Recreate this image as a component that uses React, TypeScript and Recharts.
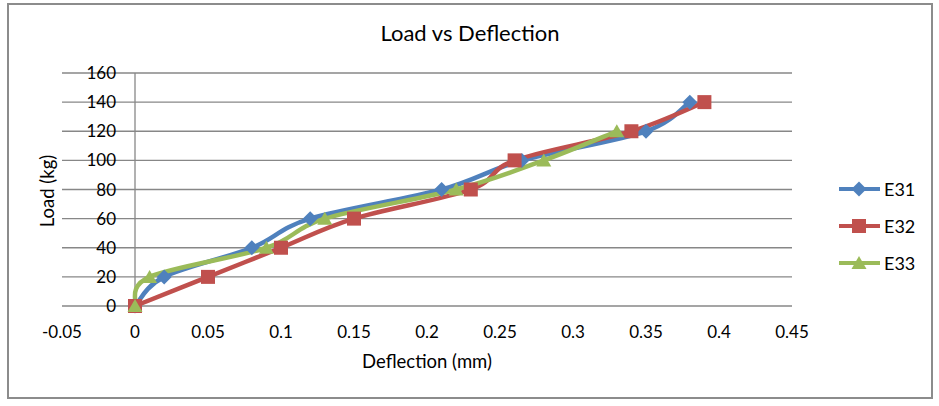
import React from "react";
import { LineChart, Line, XAxis, YAxis, CartesianGrid, ReferenceLine } from "recharts";

const e31Deflection = [0, 0.02, 0.08, 0.12, 0.21, 0.265, 0.35, 0.38];
const e31Load = [0, 20, 40, 60, 80, 100, 120, 140];
const e32Deflection = [0, 0.05, 0.1, 0.15, 0.23, 0.26, 0.34, 0.39];
const e32Load = [0, 20, 40, 60, 80, 100, 120, 140];
const e33Deflection = [0, 0.01, 0.09, 0.13, 0.22, 0.28, 0.33];
const e33Load = [0, 20, 40, 60, 80, 100, 120];

const xTicks = [-0.05, 0, 0.05, 0.1, 0.15, 0.2, 0.25, 0.3, 0.35, 0.4, 0.45];
const yTicks = [0, 20, 40, 60, 80, 100, 120, 140, 160];

const FONT = "Lato, 'Open Sans', sans-serif";
const GRID = "#878787";

const toPoints = (xs: number[], ys: number[]) => xs.map((x, i) => ({ x, y: ys[i] }));

// Excel-style smoothed line (cardinal spline through the points)
function smoothCurve(context: any) {
  let pts: number[][] = [];
  return {
    areaStart() {},
    areaEnd() {},
    lineStart() { pts = []; },
    point(x: number, y: number) { pts.push([+x, +y]); },
    lineEnd() {
      if (!pts.length) return;
      context.moveTo(pts[0][0], pts[0][1]);
      for (let i = 0; i < pts.length - 1; i++) {
        const p0 = pts[i - 1] || pts[i];
        const p1 = pts[i];
        const p2 = pts[i + 1];
        const p3 = pts[i + 2] || p2;
        context.bezierCurveTo(
          p1[0] + (p2[0] - p0[0]) / 6, p1[1] + (p2[1] - p0[1]) / 6,
          p2[0] - (p3[0] - p1[0]) / 6, p2[1] - (p3[1] - p1[1]) / 6,
          p2[0], p2[1]
        );
      }
    },
  };
}

type Shape = "diamond" | "square" | "triangle";

function Marker({ shape, cx, cy, color }: { shape: Shape; cx: number; cy: number; color: string }) {
  if (shape === "diamond")
    return <polygon points={`${cx},${cy - 7.5} ${cx + 7.5},${cy} ${cx},${cy + 7.5} ${cx - 7.5},${cy}`} fill={color} />;
  if (shape === "square") return <rect x={cx - 7} y={cy - 7} width={14} height={14} fill={color} />;
  return <polygon points={`${cx},${cy - 7} ${cx + 7.5},${cy + 6} ${cx - 7.5},${cy + 6}`} fill={color} />;
}

const series = [
  { name: "E31", color: "#4F81BD", shape: "diamond" as Shape, data: toPoints(e31Deflection, e31Load) },
  { name: "E32", color: "#C0504D", shape: "square" as Shape, data: toPoints(e32Deflection, e32Load) },
  { name: "E33", color: "#9BBB59", shape: "triangle" as Shape, data: toPoints(e33Deflection, e33Load) },
];

const XTick = (props: any) => (
  <text x={props.x} y={props.y + 24} textAnchor="middle" fontFamily={FONT} fontSize={17} fill="#000">
    {String(props.payload.value)}
  </text>
);

const YTick = (props: any) => (
  <text x={props.x + 62} y={props.y + 6} textAnchor="end" fontFamily={FONT} fontSize={17} fill="#000">
    {String(props.payload.value)}
  </text>
);

const LegendBox = () => (
  <div style={{ position: "absolute", left: 838, top: 170, fontFamily: FONT, fontSize: 18, color: "#000" }}>
    {series.map((s) => (
      <div key={s.name} style={{ display: "flex", alignItems: "center", height: 37 }}>
        <svg width={44} height={20}>
          <line x1={1} y1={10} x2={42} y2={10} stroke={s.color} strokeWidth={4} />
          <Marker shape={s.shape} cx={21} cy={10} color={s.color} />
        </svg>
        <span style={{ marginLeft: 2 }}>{s.name}</span>
      </div>
    ))}
  </div>
);

export default function App() {
  return (
    <div style={{ position: "absolute", left: 0, top: 0, width: 939, height: 406, background: "#fff" }}>
      <div
        style={{
          position: "absolute", left: 7, top: 3, width: 926, height: 396,
          border: "2px solid #8c8c8c", boxSizing: "border-box",
        }}
      />
      <div
        style={{
          position: "absolute", left: 470, top: 19, transform: "translateX(-50%)", whiteSpace: "nowrap",
          fontFamily: FONT, fontSize: 22, color: "#000",
        }}
      >
        Load vs Deflection
      </div>
      <div style={{ position: "absolute", left: 0, top: 0 }}>
        <LineChart width={939} height={406} margin={{ top: 73, right: 147, left: 0, bottom: 60 }}>
          <CartesianGrid vertical={false} stroke={GRID} strokeWidth={1.3} />
          <XAxis
            type="number"
            dataKey="x"
            domain={[-0.05, 0.45]}
            ticks={xTicks}
            interval={0}
            allowDataOverflow
            axisLine={false}
            tickLine={false}
            height={40}
            tick={<XTick />}
            label={{
              content: () => (
                <text x={427} y={368} textAnchor="middle" fontFamily={FONT} fontSize={18.5} fill="#000">
                  Deflection (mm)
                </text>
              ),
            }}
          />
          <YAxis
            type="number"
            domain={[0, 160]}
            ticks={yTicks}
            interval={0}
            width={62}
            axisLine={false}
            tickLine={false}
            tick={<YTick />}
            label={{
              content: () => (
                <text
                  x={47}
                  y={191}
                  transform="rotate(-90 47 191)"
                  textAnchor="middle"
                  dominantBaseline="central"
                  fontFamily={FONT}
                  fontSize={18.5}
                  fill="#000"
                >
                  Load (kg)
                </text>
              ),
            }}
          />
          <ReferenceLine x={0} stroke={GRID} strokeWidth={1.3} />
          {series.map((s) => (
            <Line
              key={s.name}
              name={s.name}
              data={s.data}
              dataKey="y"
              type={smoothCurve as any}
              stroke={s.color}
              strokeWidth={4.5}
              isAnimationActive={false}
              dot={(p: any) => <Marker key={`${s.name}-${p.index}`} shape={s.shape} cx={p.cx} cy={p.cy} color={s.color} />}
              activeDot={false}
            />
          ))}
        </LineChart>
      </div>
      <LegendBox />
    </div>
  );
}
